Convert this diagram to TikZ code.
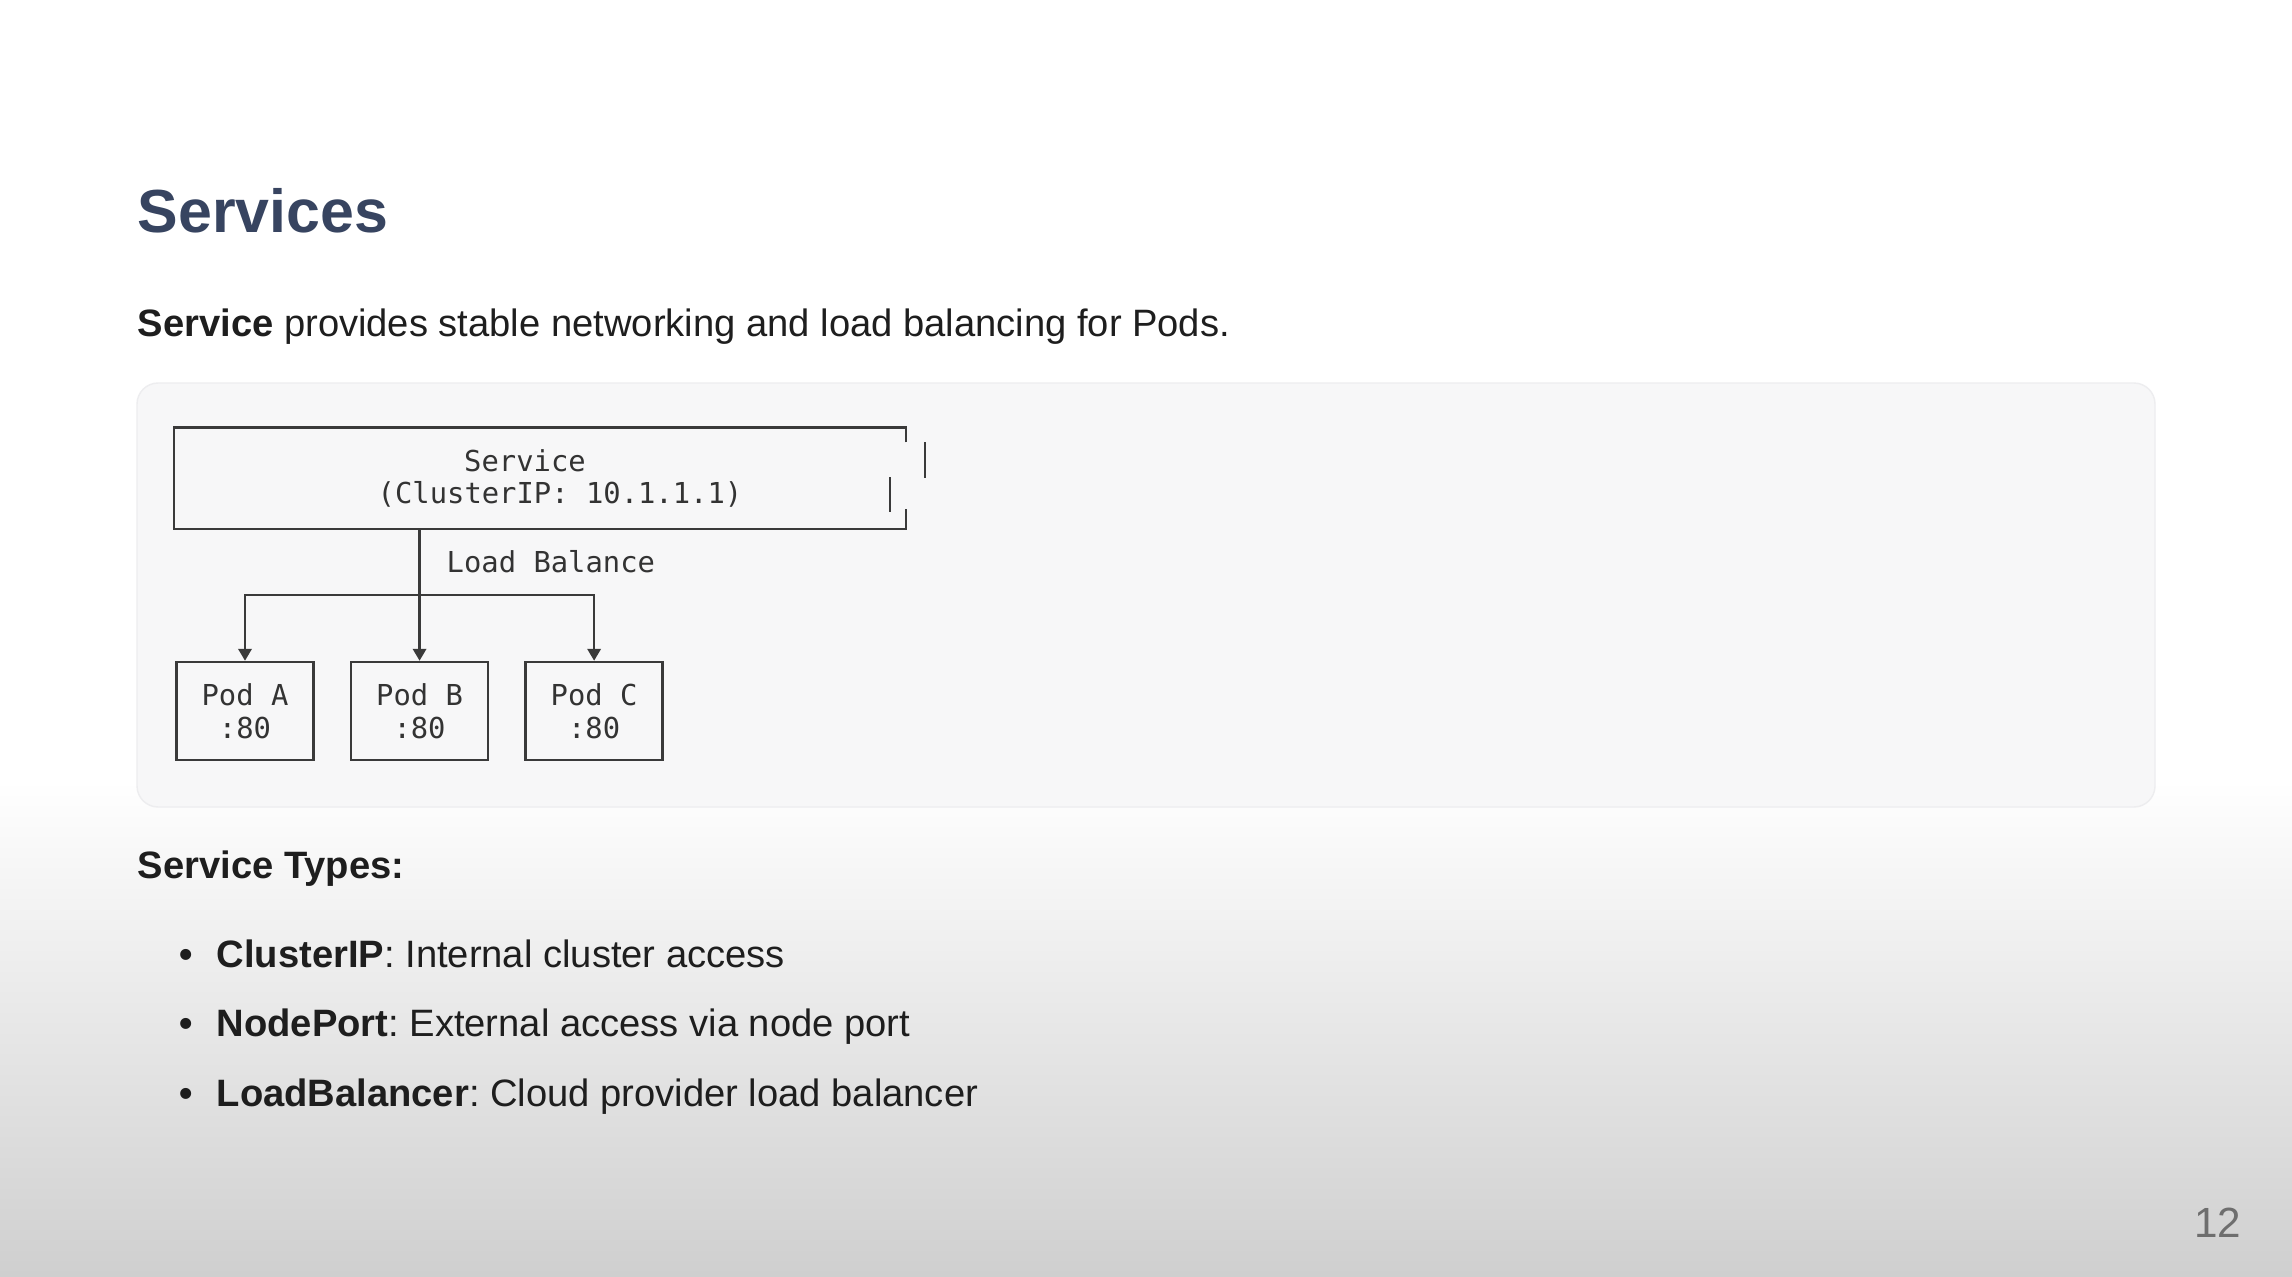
\documentclass[tikz,border=0pt]{standalone}
\usepackage{fontspec}
\setmainfont{Liberation Sans}
\setmonofont{DejaVu Sans Mono}
\usetikzlibrary{arrows.meta,positioning}
\definecolor{titleblue}{HTML}{374460}
\definecolor{bodytext}{HTML}{1E1E1E}
\definecolor{boxline}{HTML}{3A3A3A}
\definecolor{monotext}{HTML}{333333}
\definecolor{panelfill}{HTML}{F7F7F8}
\definecolor{paneledge}{HTML}{EDEDEF}
\definecolor{bggray}{HTML}{CFCFCF}
\definecolor{pagegray}{HTML}{6E6E6E}
\newcommand{\diagfont}{\ttfamily\fontsize{8.2}{9.4}\selectfont}
\newcommand{\slidefont}{\fontsize{10.85}{13}\selectfont}
\frenchspacing
\tikzset{
	pod/.style={draw=boxline,line width=0.7pt,minimum width=1.37cm,minimum height=0.98cm,inner sep=0pt,align=center,font=\diagfont,text=monotext},
	mono/.style={inner sep=0pt,font=\diagfont,text=monotext},
	link/.style={draw=boxline,line width=0.7pt},
	arr/.style={link,-{Triangle[width=3.8pt,length=3.4pt]}},
	body/.style={inner sep=0pt,anchor=base west,font=\slidefont,text=bodytext}
}

\begin{document}
\begin{tikzpicture}[x=0.01cm,y=-0.01cm]
	\useasboundingbox (0,0) rectangle (2292,1276);
	\fill[white] (0,0) rectangle (2292,1276);
	\shade[top color=white,bottom color=bggray] (0,780) rectangle (2292,1276);

	\node[anchor=base west,inner sep=0pt,font=\fontsize{17.3}{20}\selectfont\bfseries,text=titleblue] (title) at (137,232) {Services};
	\node[body] (intro) at (137,336) {\textbf{Service} provides stable networking and load balancing for Pods.};

	\draw[fill=panelfill,draw=paneledge,rounded corners=6] (137,383) rectangle (2155,807);

	% service box, right edge left open
	\node[minimum width=7.3cm,minimum height=1cm,inner sep=0pt] (svc) at (540,478) {};
	\draw[link] ([yshift=-0.15cm]svc.north east) -- (svc.north east) -- (svc.north west) -- (svc.south west) -- (svc.south east) -- ([yshift=0.2cm]svc.south east);
	\draw[link] (925,442) -- (925,478);
	\draw[link] (890,477) -- (890,512);
	\node[mono,anchor=base] (svcname) at (525,471) {Service};
	\node[mono,anchor=base] (svcip) at (560,503) {(ClusterIP: 10.1.1.1)};

	\node[pod] (podA) at (245,711) {Pod A\\:80};
	\node[pod,right=0.35cm of podA] (podB) {Pod B\\:80};
	\node[pod,right=0.35cm of podB] (podC) {Pod C\\:80};

	\node[mono,anchor=base west] (lb) at (446,572) {Load Balance};
	\coordinate (fork) at (podB.north |- 0,595);
	\draw[arr] (podB.north |- svc.south) -- (podB.north);
	\draw[arr] (fork) -| (podA.north);
	\draw[arr] (fork) -| (podC.north);

	\node[body] (types) at (137,878) {\textbf{Service Types:}};
	\node[body,anchor=base] (dotA) at (186,967) {\textbf{•}};
	\node[body,anchor=base] (dotB) at (186,1036) {\textbf{•}};
	\node[body,anchor=base] (dotC) at (186,1106) {\textbf{•}};
	\node[body] (typeA) at (216,967) {\textbf{ClusterIP}: Internal cluster access};
	\node[body] (typeB) at (216,1036) {\textbf{NodePort}: External access via node port};
	\node[body] (typeC) at (216,1106) {\textbf{LoadBalancer}: Cloud provider load balancer};

	\node[anchor=base east,inner sep=0pt,font=\fontsize{12}{14}\selectfont,text=pagegray] (page) at (2242,1237) {12};
\end{tikzpicture}
\end{document}
